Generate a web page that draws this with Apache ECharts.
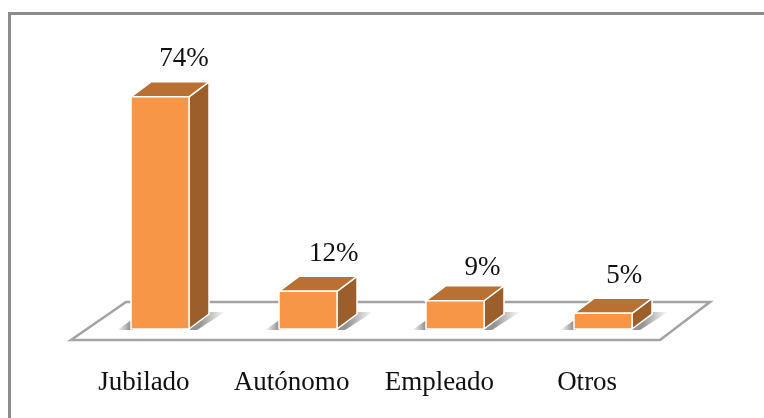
<!DOCTYPE html>
<html>
<head>
<meta charset="utf-8">
<style>
html, body { margin: 0; padding: 0; background: #fff; }
#chart { width: 764px; height: 418px; }
</style>
<script src="https://cdn.jsdelivr.net/npm/echarts@6/dist/echarts.min.js"></script>
</head>
<body>
<div id="chart"></div>
<script>
var categories = ["Jubilado", "Autónomo", "Empleado", "Otros"];
var shares = [74, 12, 9, 5];

// label nudges relative to the bar top, the source picture is not regular
var labelDx = [24, 26, 27, 21];
var labelDy = [-38, -37, -33, -37];

var DEPTH_X = 20;
var DEPTH_Y = 15;
var BAR_W = 58;
var FONT = '"Liberation Serif", serif';

var chart = echarts.init(document.getElementById("chart"), null, { renderer: "canvas" });

function poly(points, fill, stroke) {
  return {
    type: "polygon",
    shape: { points: points },
    style: { fill: fill, stroke: stroke || null, lineWidth: stroke ? 1.5 : 0 }
  };
}

function fade(x0, x1, from, to) {
  return new echarts.graphic.LinearGradient(x0, 0, x1, 0, [
    { offset: 0, color: from },
    { offset: 1, color: to }
  ]);
}

function renderFloor(params, api) {
  var rect = params.coordSys;
  var base = api.coord([0, 0])[1];
  return {
    type: "polygon",
    shape: {
      points: [
        [rect.x - 15, base + 11],
        [rect.x + rect.width - 17, base + 11],
        [rect.x + rect.width + 33, base - 27],
        [rect.x + 40, base - 27]
      ]
    },
    style: { fill: "#fff", stroke: "#a3a3a3", lineWidth: 2.5 }
  };
}

function renderBox(params, api) {
  var i = api.value(0);
  var top = api.coord([i, api.value(1)]);
  var base = api.coord([i, 0]);
  var x0 = Math.round(top[0] - BAR_W / 2);
  var x1 = x0 + BAR_W;
  var y0 = top[1];
  var y1 = base[1];
  return {
    type: "group",
    children: [
      poly([[x0 - 14, y1 + 1], [x0 + 2, y1 + 1], [x0 + 2, y1 - 10]],
        fade(0, 1, "rgba(80,80,80,0)", "rgba(80,80,80,0.75)")),
      poly([[x1, y1 + 1], [x1 + 14, y1 - 17], [x1 + 36, y1 - 17], [x1 + 8, y1 + 1]],
        fade(0.3, 1, "rgba(90,90,90,0.65)", "rgba(90,90,90,0)")),
      poly([[x1, y1], [x1 + DEPTH_X, y1 - DEPTH_Y], [x1 + DEPTH_X, y0 - DEPTH_Y], [x1, y0]], "#9c5e2b", "#fff"),
      poly([[x0, y0], [x0 + DEPTH_X, y0 - DEPTH_Y], [x1 + DEPTH_X, y0 - DEPTH_Y], [x1, y0]], "#b87133", "#fff"),
      poly([[x0, y0], [x1, y0], [x1, y1], [x0, y1]], "#f79646", "#fff"),
      {
        type: "text",
        style: {
          x: top[0] + labelDx[i],
          y: y0 + labelDy[i],
          text: api.value(1) + "%",
          font: "27px " + FONT,
          fill: "#111",
          align: "center",
          verticalAlign: "middle"
        }
      }
    ]
  };
}

chart.setOption({
  backgroundColor: "#fff",
  animation: false,
  graphic: [{
    type: "polyline",
    shape: { points: [[9.5, 418], [9.5, 13.5], [764, 13.5]] },
    style: { fill: null, stroke: "#8c8c8c", lineWidth: 3 }
  }],
  grid: { left: 86, right: 87, top: 78, bottom: 89 },
  xAxis: {
    type: "category",
    data: categories,
    axisLine: { show: false },
    axisTick: { show: false },
    axisLabel: {
      margin: 40,
      padding: [0, 32, 0, 0],
      interval: 0,
      fontFamily: FONT,
      fontSize: 27,
      color: "#111"
    }
  },
  yAxis: { type: "value", min: 0, max: 80, show: false, splitLine: { show: false } },
  series: [
    {
      type: "custom",
      renderItem: renderFloor,
      data: [[0, 0]],
      silent: true,
      z: 1
    },
    {
      type: "custom",
      renderItem: renderBox,
      encode: { x: 0, y: 1 },
      data: shares.map(function (v, i) { return [i, v]; }),
      z: 2
    }
  ]
});
</script>
</body>
</html>
